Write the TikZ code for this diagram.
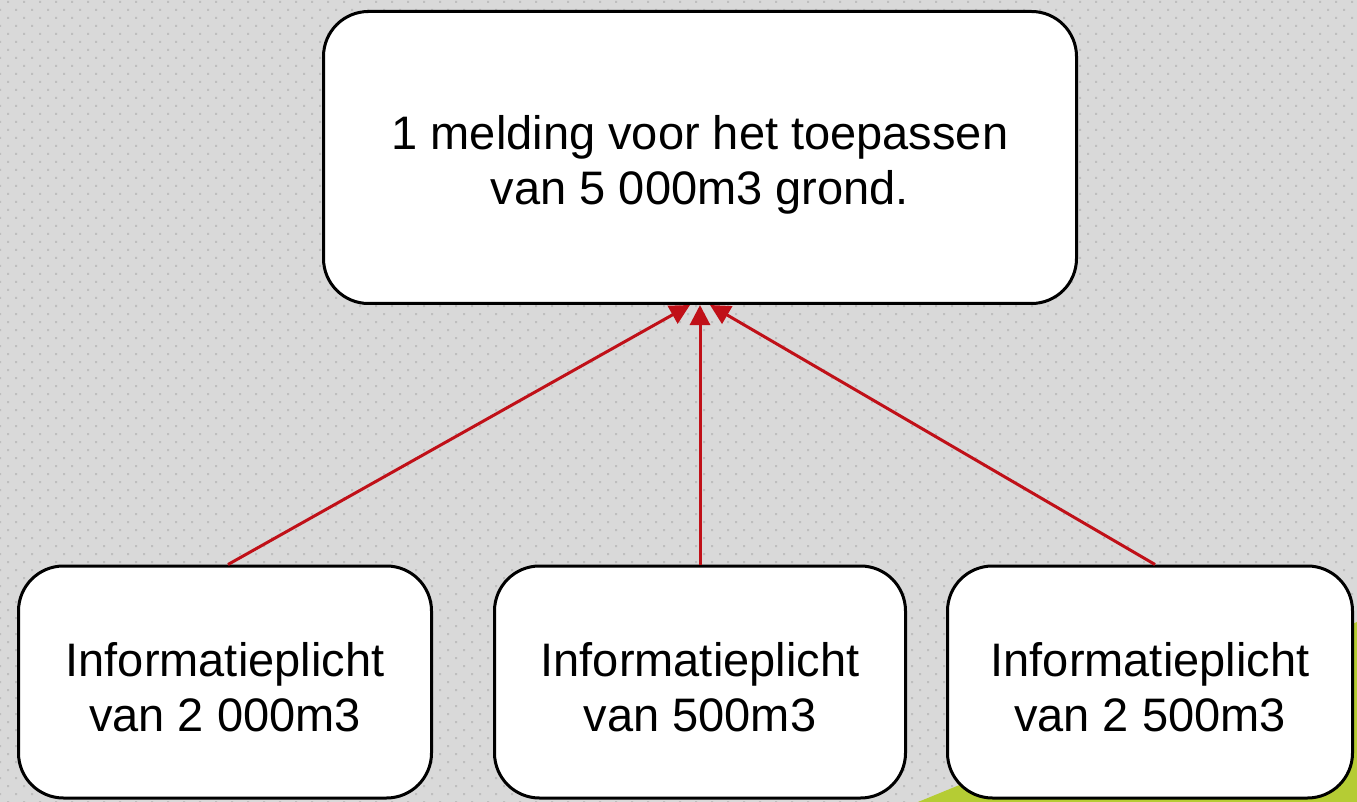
\documentclass[tikz,border=0pt]{standalone}
\usepackage{fontspec}
\setmainfont{Liberation Sans}
\usepackage{tikz}
\usetikzlibrary{arrows.meta,positioning}

\definecolor{bggray}{RGB}{217,217,217}
\definecolor{dotgray}{RGB}{190,190,190}
\definecolor{linkred}{RGB}{192,16,24}
\definecolor{limegreen}{RGB}{181,204,52}

\newcommand{\lift}[1]{\rule{0pt}{#1}}

\begin{document}
\begin{tikzpicture}[
  x=1pt, y=-1pt,
  box/.style={draw, line width=3pt, rounded corners=45pt, fill=white, align=center,
    font=\fontsize{47}{55}\selectfont},
  link/.style={-{Triangle[length=20pt,width=20pt]}, line width=3pt, draw=linkred}
]
\useasboundingbox (0,0) rectangle (1357,802);

% background with dots
\fill[bggray] (0,0) rectangle (1357,802);
\foreach \j in {0,...,50} {
  \fill[dotgray] foreach \i in {0,...,85} {
    (8+16*\i-1, 2+16*\j-1) rectangle ++(2,2)
    (16*\i-1, 10+16*\j-1) rectangle ++(2,2)
  };
}
\fill[limegreen] (918,802) -- (1357,622) -- (1357,802) -- cycle;

\node[box, minimum width=753pt, minimum height=292pt] (melding) at (700,157.5)
  {\lift{48pt}1 melding voor het toepassen\\van 5 000m3 grond.};

\node[box, minimum width=413pt, minimum height=232pt] (info1) at (225,682)
  {\lift{44pt}Informatieplicht\\van 2 000m3};
\node[box, minimum width=411pt, minimum height=232pt] (info2) at (700,682)
  {\lift{44pt}Informatieplicht\\van 500m3};
\node[box, minimum width=405pt, minimum height=232pt] (info3) at (1150,682)
  {\lift{44pt}Informatieplicht\\van 2 500m3};

\draw[link] ([xshift=3pt]info1.north) -- ([xshift=-10pt]melding.south);
\draw[link] (info2.north) -- (melding.south);
\draw[link] ([xshift=5pt]info3.north) -- ([xshift=10pt]melding.south);

\end{tikzpicture}
\end{document}
